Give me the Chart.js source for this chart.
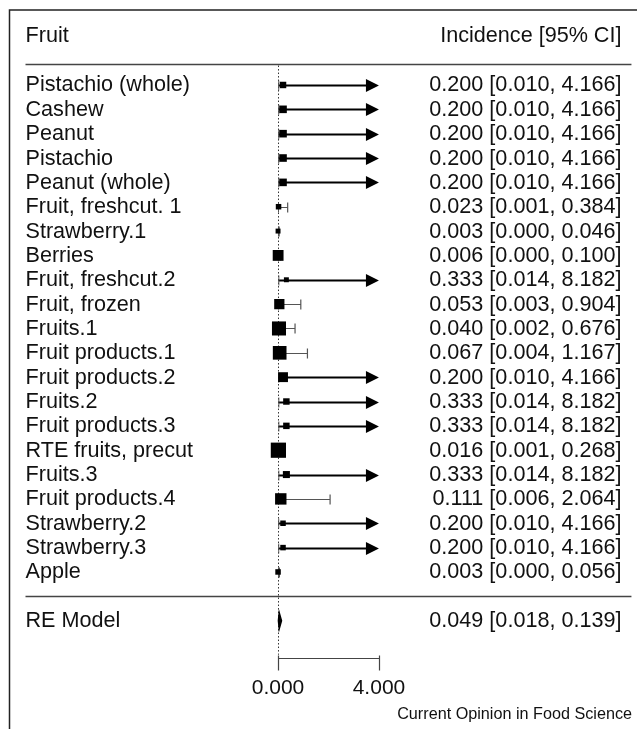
<!DOCTYPE html>
<html>
<head>
<meta charset="utf-8">
<script src="https://cdn.jsdelivr.net/npm/chart.js@4"></script>
<style>
  html, body { margin: 0; padding: 0; background: #fff; }
  canvas { display: block; }
</style>
</head>
<body>
<canvas id="forestChart" width="637" height="729"></canvas>
<script>
const studies = [
  'Pistachio (whole)', 'Cashew', 'Peanut', 'Pistachio', 'Peanut (whole)',
  'Fruit, freshcut. 1', 'Strawberry.1', 'Berries', 'Fruit, freshcut.2', 'Fruit, frozen',
  'Fruits.1', 'Fruit products.1', 'Fruit products.2', 'Fruits.2', 'Fruit products.3',
  'RTE fruits, precut', 'Fruits.3', 'Fruit products.4', 'Strawberry.2', 'Strawberry.3', 'Apple'
];
const estimates = [0.200, 0.200, 0.200, 0.200, 0.200, 0.023, 0.003, 0.006, 0.333, 0.053,
  0.040, 0.067, 0.200, 0.333, 0.333, 0.016, 0.333, 0.111, 0.200, 0.200, 0.003];
const lowerCI = [0.010, 0.010, 0.010, 0.010, 0.010, 0.001, 0.000, 0.000, 0.014, 0.003,
  0.002, 0.004, 0.010, 0.014, 0.014, 0.001, 0.014, 0.006, 0.010, 0.010, 0.000];
const upperCI = [4.166, 4.166, 4.166, 4.166, 4.166, 0.384, 0.046, 0.100, 8.182, 0.904,
  0.676, 1.167, 4.166, 8.182, 8.182, 0.268, 8.182, 2.064, 4.166, 4.166, 0.056];
// study weights (%)
const weights = [3.4, 4.0, 4.0, 4.0, 4.0, 2.9, 2.6, 5.7, 2.6, 5.4,
  7.4, 7.2, 5.2, 3.4, 3.4, 8.0, 3.7, 6.0, 2.9, 2.9, 2.9];

const summaryLabel = 'RE Model';
const summaryEst = 0.049;
const summaryLower = 0.018;
const summaryUpper = 0.139;

const axisTicks = [0, 4];
const headerLeft = 'Fruit';
const headerRight = 'Incidence [95% CI]';
const footer = 'Current Opinion in Food Science';

const FONT = '"Liberation Sans", Arial, Helvetica, sans-serif';
const alim = [0, 4];     // CI lines get clipped (arrow) beyond this
const xlim = [-10, 14];  // text columns / separator lines
const k = studies.length;
const fmt = v => v.toFixed(3);
const annot = (e, l, u) => fmt(e) + ' [' + fmt(l) + ', ' + fmt(u) + ']';
const markerSide = w => w * 1.9;

const forestPlugin = {
  id: 'forest',
  beforeDraw(chart) {
    const { ctx, scales: { x, y } } = chart;
    ctx.save();
    ctx.fillStyle = '#fff';
    ctx.fillRect(0, 0, chart.width, chart.height);

    // outer box, cut off on the right and bottom
    ctx.strokeStyle = '#222';
    ctx.lineWidth = 1.5;
    ctx.beginPath();
    ctx.moveTo(9.5, chart.height);
    ctx.lineTo(9.5, 10);
    ctx.lineTo(chart.width, 10);
    ctx.stroke();

    // header and summary separators
    ctx.strokeStyle = '#444';
    ctx.lineWidth = 1.6;
    [-0.88, k].forEach(r => {
      const py = Math.round(y.getPixelForValue(r)) + 0.5;
      ctx.beginPath();
      ctx.moveTo(x.getPixelForValue(xlim[0]), py);
      ctx.lineTo(x.getPixelForValue(xlim[1]), py);
      ctx.stroke();
    });

    // dotted reference line at 0
    const rx = Math.round(x.getPixelForValue(0)) + 0.5;
    ctx.strokeStyle = '#333';
    ctx.lineWidth = 1;
    ctx.setLineDash([1.5, 2]);
    ctx.beginPath();
    ctx.moveTo(rx, y.getPixelForValue(-0.88) + 2);
    ctx.lineTo(rx, y.getPixelForValue(23.4));
    ctx.stroke();
    ctx.restore();
  },
  beforeDatasetsDraw(chart) {
    const { ctx, scales: { x, y } } = chart;
    ctx.save();
    studies.forEach((s, i) => {
      const py = Math.round(y.getPixelForValue(i)) + 0.5;
      const x0 = x.getPixelForValue(Math.max(lowerCI[i], alim[0]));
      const clipped = upperCI[i] > alim[1];
      const x1 = x.getPixelForValue(Math.min(upperCI[i], alim[1]));
      if (clipped) {
        ctx.strokeStyle = '#000';
        ctx.lineWidth = 2;
        ctx.beginPath();
        ctx.moveTo(x0, py);
        ctx.lineTo(x1 - 10, py);
        ctx.stroke();
        ctx.fillStyle = '#000';
        ctx.beginPath();
        ctx.moveTo(x1, py);
        ctx.lineTo(x1 - 13, py - 6.5);
        ctx.lineTo(x1 - 13, py + 6.5);
        ctx.closePath();
        ctx.fill();
      } else {
        ctx.strokeStyle = '#555';
        ctx.lineWidth = 1.2;
        ctx.beginPath();
        ctx.moveTo(x0, py);
        ctx.lineTo(x1, py);
        ctx.moveTo(x1, py - 5);
        ctx.lineTo(x1, py + 5);
        ctx.stroke();
      }
      // lower end cap
      ctx.strokeStyle = '#555';
      ctx.lineWidth = 1;
      ctx.beginPath();
      ctx.moveTo(x0 + 0.5, py - 5);
      ctx.lineTo(x0 + 0.5, py + 5);
      ctx.stroke();
    });
    ctx.restore();
  },
  afterDatasetsDraw(chart) {
    const { ctx, scales: { x, y } } = chart;
    // summary diamond
    const py = y.getPixelForValue(k + 1);
    ctx.save();
    ctx.fillStyle = '#000';
    ctx.strokeStyle = '#000';
    ctx.lineWidth = 1.5;
    ctx.beginPath();
    ctx.moveTo(x.getPixelForValue(summaryLower), py);
    ctx.lineTo(x.getPixelForValue(summaryEst), py - 8);
    ctx.lineTo(x.getPixelForValue(summaryUpper), py);
    ctx.lineTo(x.getPixelForValue(summaryEst), py + 8);
    ctx.closePath();
    ctx.fill();
    ctx.stroke();
    ctx.restore();
  },
  afterDraw(chart) {
    const { ctx, scales: { x, y } } = chart;
    const left = x.getPixelForValue(xlim[0]) + 0;
    const right = x.getPixelForValue(xlim[1]) - 10;
    ctx.save();
    ctx.fillStyle = '#111';
    ctx.font = '21.6px ' + FONT;
    ctx.textBaseline = 'alphabetic';

    ctx.textAlign = 'left';
    ctx.fillText(headerLeft, left, y.getPixelForValue(-2) + 6);
    studies.forEach((s, i) => ctx.fillText(s, left, y.getPixelForValue(i) + 6.5));
    ctx.fillText(summaryLabel, left, y.getPixelForValue(k + 1) + 6.5);

    ctx.textAlign = 'right';
    ctx.fillText(headerRight, right, y.getPixelForValue(-2) + 6);
    studies.forEach((s, i) =>
      ctx.fillText(annot(estimates[i], lowerCI[i], upperCI[i]), right, y.getPixelForValue(i) + 6.5));
    ctx.fillText(annot(summaryEst, summaryLower, summaryUpper), right, y.getPixelForValue(k + 1) + 6.5);

    // x axis, only across the tick range
    const ay = Math.round(y.getPixelForValue(23.53)) + 0.5;
    ctx.strokeStyle = '#444';
    ctx.lineWidth = 1.2;
    ctx.beginPath();
    ctx.moveTo(x.getPixelForValue(axisTicks[0]), ay);
    ctx.lineTo(x.getPixelForValue(axisTicks[axisTicks.length - 1]), ay);
    axisTicks.forEach(t => {
      const tx = Math.round(x.getPixelForValue(t)) + 0.5;
      ctx.moveTo(tx, ay - 3);
      ctx.lineTo(tx, ay + 12);
    });
    ctx.stroke();
    ctx.font = '21px ' + FONT;
    ctx.textAlign = 'center';
    axisTicks.forEach(t => ctx.fillText(t.toFixed(3), x.getPixelForValue(t), ay + 35));

    ctx.font = '16.2px ' + FONT;
    ctx.textAlign = 'right';
    ctx.fillText(footer, 632, 719);
    ctx.restore();
  }
};

new Chart(document.getElementById('forestChart'), {
  type: 'scatter',
  data: {
    datasets: [{
      data: estimates.map((v, i) => ({ x: v, y: i })),
      pointStyle: 'rect',
      pointRadius: weights.map(w => markerSide(w) / Math.SQRT2),
      pointHoverRadius: weights.map(w => markerSide(w) / Math.SQRT2),
      pointBackgroundColor: '#000',
      pointBorderWidth: 0,
      showLine: false
    }]
  },
  options: {
    responsive: false,
    animation: false,
    events: [],
    layout: { padding: 0, autoPadding: false },
    plugins: { legend: { display: false }, tooltip: { enabled: false } },
    scales: {
      x: { type: 'linear', min: -11.01, max: 14.22, display: false },
      y: { type: 'linear', min: -3.49, max: 26.45, reverse: true, display: false }
    }
  },
  plugins: [forestPlugin]
});
</script>
</body>
</html>
